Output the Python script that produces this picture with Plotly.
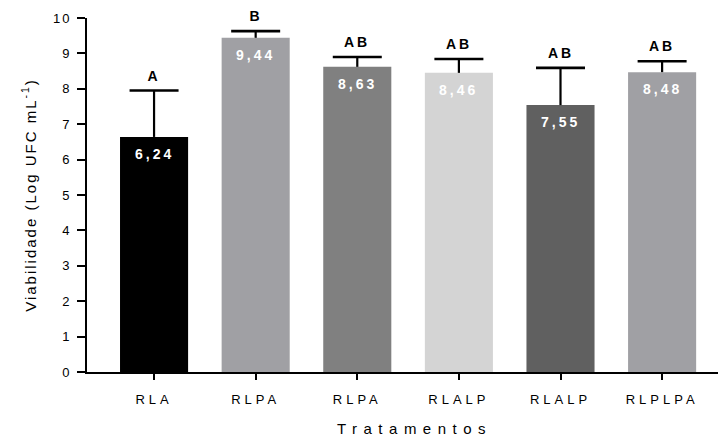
import plotly.graph_objects as go

categories = ["RLA", "RLPA", "RLPA ", "RLALP", "RLALP ", "RLPLPA"]
tick_text = ["RLA", "RLPA", "RLPA", "RLALP", "RLALP", "RLPLPA"]
means = [6.64, 9.44, 8.62, 8.45, 7.54, 8.47]
errors = [1.31, 0.19, 0.28, 0.39, 1.05, 0.31]
value_labels = ["6,24", "9,44", "8,63", "8,46", "7,55", "8,48"]
letters = ["A", "B", "AB", "AB", "AB", "AB"]
colors = ["#000000", "#a0a0a4", "#808080", "#d4d4d4", "#606060", "#a0a0a4"]

x = list(range(len(categories)))
tops = [m + e for m, e in zip(means, errors)]

fig = go.Figure()
fig.add_trace(go.Bar(
    x=x, y=means, width=0.67,
    marker=dict(color=colors, line=dict(width=0)),
    showlegend=False, hoverinfo="skip",
))
# whiskers (upper only, no cap at bar top)
fig.add_trace(go.Scatter(
    x=x, y=means, mode="markers", marker=dict(size=1, color="rgba(0,0,0,0)"),
    error_y=dict(type="data", symmetric=False, array=errors, arrayminus=[0]*len(errors),
                 color="#000000", thickness=2.2, width=0),
    showlegend=False, hoverinfo="skip",
))
# caps
fig.add_trace(go.Scatter(
    x=x, y=tops, mode="markers",
    marker=dict(symbol="line-ew", size=35, line=dict(width=2.6, color="#000000")),
    showlegend=False, hoverinfo="skip",
))

for i in x:
    fig.add_annotation(x=i, y=means[i], text="<b>" + value_labels[i] + "</b>",
                       showarrow=False, yanchor="top", yshift=-7,
                       font=dict(family="Liberation Sans, Arial", size=14, color="white"))
    fig.add_annotation(x=i, y=tops[i], text="<b>" + letters[i] + "</b>",
                       showarrow=False, yanchor="bottom", yshift=5,
                       font=dict(family="Liberation Sans, Arial", size=14, color="black"))

fig.update_layout(
    width=720, height=437,
    margin=dict(l=87, r=2, t=18, b=65),
    paper_bgcolor="white", plot_bgcolor="white",
    font=dict(family="Liberation Sans, Arial", size=13, color="black"),
)
fig.update_xaxes(
    range=[-0.66, 5.55],
    tickmode="array", tickvals=x, ticktext=tick_text,
    showline=True, linecolor="black", linewidth=2,
    ticks="outside", ticklen=6, tickwidth=1.5, tickcolor="black",
    ticklabelstandoff=8,
    showgrid=False, zeroline=False,
    title=dict(text="Tratamentos", font=dict(size=15), standoff=19),
)
fig.update_yaxes(
    range=[0, 10], dtick=1,
    showline=True, linecolor="black", linewidth=2,
    ticks="outside", ticklen=8, tickwidth=1.5, tickcolor="black",
    ticklabelstandoff=3,
    showgrid=False, zeroline=False,
    title=dict(text="Viabilidade (Log UFC mL<sup>-1</sup>)", font=dict(size=15), standoff=17),
)

post = """
function sp(sel, v){document.querySelectorAll(sel).forEach(function(e){e.style.letterSpacing=v;});}
sp('.xtick text','4px');
sp('.ytick text','2px');
sp('text.xtitle','6.5px');
sp('text.ytitle','2px');
sp('.annotation-text','3px');
document.querySelectorAll('text.xtitle').forEach(function(e){
  e.setAttribute('x', parseFloat(e.getAttribute('x')) + 12);
});
"""

fig.write_html("out.html", post_script=post)
